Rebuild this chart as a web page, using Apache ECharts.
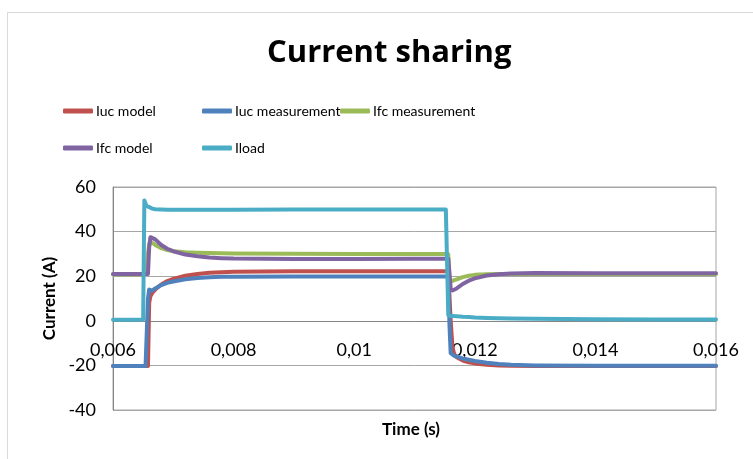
<!DOCTYPE html>
<html>
<head>
<meta charset="utf-8">
<script src="https://cdn.jsdelivr.net/npm/echarts@6/dist/echarts.min.js"></script>
<style>html,body{margin:0;padding:0;background:#fff}#c{width:753px;height:459px}</style>
</head>
<body>
<div id="c"></div>
<script>
const titleText = 'Current sharing';
const seriesNames = ['Iuc model', 'Iuc measurement', 'Ifc measurement', 'Ifc model', 'Iload'];
const seriesColors = ['#C0504D', '#4F81BD', '#9BBB59', '#8064A2', '#4BACC6'];
const xTicks = [0.006, 0.008, 0.010, 0.012, 0.014, 0.016];
const yTicks = [-40, -20, 0, 20, 40, 60];

const time = [0.0060, 0.0064, 0.00650, 0.00652, 0.00654, 0.00656, 0.00658, 0.00660, 0.00662, 0.00665,
  0.00670, 0.00680, 0.00690, 0.00700, 0.00720, 0.00740, 0.00760, 0.00780, 0.00800, 0.00900,
  0.01000, 0.01100, 0.01152, 0.01154, 0.01156, 0.01158, 0.01160, 0.01163, 0.01166, 0.01170,
  0.01180, 0.01190, 0.01200, 0.01220, 0.01240, 0.01260, 0.01300, 0.01400, 0.01500, 0.01600];

const iucModel = [-20.3, -20.3, -20.3, -20.3, -20.3, -20.3, -20.3, 8, 11, 12.5,
  14, 16.3, 17.8, 18.8, 20.2, 21, 21.5, 21.8, 22, 22.2,
  22.2, 22.2, 22.2, 22.2, 22.2, 22.1, 0, -12, -15, -16.3,
  -17.8, -18.6, -19.1, -19.7, -20, -20.2, -20.3, -20.3, -20.3, -20.3];

const iucMeasurement = [-20.3, -20.3, -20.3, -20.3, -20.3, -20.3, 10, 14, 13.5, 13.5,
  14.5, 16, 17, 17.6, 18.6, 19.2, 19.5, 19.7, 19.8, 19.9,
  19.9, 19.9, 19.9, 19.9, 19.8, -2, -14.5, -15.3, -15.7, -16.1,
  -16.9, -17.5, -18, -18.8, -19.4, -19.7, -20, -20.2, -20.2, -20.2];

const ifcMeasurement = [20.8, 20.8, 20.8, 20.8, 20.8, 20.8, 30, 34.5, 35, 35,
  34, 32.6, 31.7, 31.2, 30.7, 30.5, 30.4, 30.3, 30.2, 30.1,
  30, 30, 30, 30, 29.9, 19, 17.6, 17.8, 18.2, 18.6,
  19.6, 20.2, 20.6, 20.9, 21, 21, 21, 21, 21, 21];

const ifcModel = [21, 21, 21, 21, 21, 21, 21, 33, 37.5, 38,
  36.5, 34, 32.3, 31.2, 29.7, 28.9, 28.4, 28.1, 27.9, 27.7,
  27.7, 27.8, 27.8, 27.8, 27.8, 27.7, 14.5, 13.6, 13.8, 14.5,
  16.5, 18, 19, 20.3, 20.9, 21.2, 21.4, 21.3, 21.3, 21.3];

const iload = [0.5, 0.5, 0.6, 54, 52.5, 51.5, 52, 51, 50.6, 50.3,
  50, 49.9, 49.8, 49.8, 49.8, 49.8, 49.8, 49.8, 49.8, 49.9,
  49.9, 49.9, 49.9, 49.8, 2.6, 2.3, 2.2, 2.1, 2.1, 2.0,
  1.8, 1.7, 1.5, 1.3, 1.1, 1.0, 0.9, 0.7, 0.6, 0.6];

const valueSets = [iucModel, iucMeasurement, ifcMeasurement, ifcModel, iload];
const FONT = 'Lato';

const chart = echarts.init(document.getElementById('c'), null, {renderer: 'canvas'});
const legendText = {fontFamily: FONT, fontSize: 14, color: '#000', padding: [0, 0, 0, -2]};
const legendBase = {
  orient: 'vertical', itemWidth: 30, itemHeight: 5, icon: 'roundRect',
  itemGap: 23, padding: 0, textStyle: legendText
};
const gridTop = 187, gridBottomPx = 410;
const yMin = -40, yMax = 60;
const zeroOffset = -(gridBottomPx - gridTop) * (0 - yMin) / (yMax - yMin);
chart.setOption({
  animation: false,
  backgroundColor: '#fff',
  title: {
    text: titleText, left: 262, top: 33,
    textStyle: {fontFamily: 'Open Sans', fontSize: 31, fontWeight: 'bold', color: '#000'}
  },
  legend: [
    Object.assign({}, legendBase, {left: 63, top: 104, data: [seriesNames[0], seriesNames[3]]}),
    Object.assign({}, legendBase, {left: 202, top: 104, data: [seriesNames[1], seriesNames[4]]}),
    Object.assign({}, legendBase, {left: 340, top: 104, data: [seriesNames[2]]})
  ],
  grid: {left: 113, right: 37, top: gridTop, bottom: 459 - gridBottomPx, show: true, borderColor: '#A6A6A6', borderWidth: 1, backgroundColor: 'transparent'},
  xAxis: {
    type: 'value', min: xTicks[0], max: xTicks[xTicks.length - 1], interval: 0.002,
    position: 'bottom', offset: zeroOffset,
    axisLine: {show: true, onZero: false, lineStyle: {color: '#868686', width: 1}},
    axisTick: {show: false},
    splitLine: {show: false},
    axisLabel: {
      margin: 20, fontFamily: FONT, fontSize: 18, color: '#000',
      showMinLabel: true, showMaxLabel: true,
      formatter: v => String(+v.toFixed(4)).replace('.', ',')
    }
  },
  yAxis: {
    type: 'value', min: yMin, max: yMax, interval: 20,
    name: 'Current (A)', nameLocation: 'middle', nameRotate: 90, nameGap: 55,
    nameTextStyle: {fontFamily: FONT, fontSize: 17, fontWeight: 'bold', color: '#000'},
    axisLine: {show: true, lineStyle: {color: '#868686'}},
    axisTick: {show: false},
    splitLine: {show: true, lineStyle: {color: '#A6A6A6', width: 1}},
    axisLabel: {margin: 17, fontFamily: FONT, fontSize: 18, color: '#000'}
  },
  graphic: [
    {type: 'rect', shape: {x: 7.5, y: 12.5, width: 900, height: 600}, style: {fill: 'none', stroke: '#D9D9D9', lineWidth: 1}, silent: true, z: -10},
    {type: 'text', left: 382, top: 421, style: {text: 'Time (s)', fontFamily: FONT, fontSize: 17, fontWeight: 'bold', fill: '#000'}}
  ],
  series: seriesNames.map((name, i) => ({
    name: name, type: 'line', showSymbol: false, symbol: 'none',
    color: seriesColors[i],
    lineStyle: {width: 4, color: seriesColors[i], cap: 'round', join: 'round'},
    data: time.map((t, k) => [t, valueSets[i][k]]),
    z: 2 + i
  }))
});
</script>
</body>
</html>
